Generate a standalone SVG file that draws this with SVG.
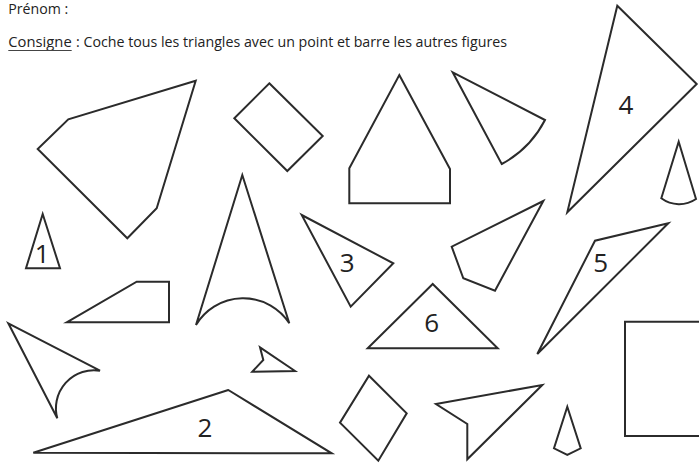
<svg xmlns="http://www.w3.org/2000/svg" width="699" height="463" viewBox="0 0 699 463">
<style>
.s{fill:none;stroke:#2b2b2b;stroke-width:2;stroke-linejoin:miter}
.t{font-family:"Open Sans","Liberation Sans",sans-serif;fill:#222}
.n{font-family:"Open Sans","Liberation Sans",sans-serif;font-size:26px;fill:#222;text-anchor:middle}
</style>
<rect width="699" height="463" fill="#fff"/>
<g id="header">
<text class="t" x="8.3" y="13.5" font-size="15" textLength="60" lengthAdjust="spacingAndGlyphs">Prénom :</text>
<text class="t" x="8.3" y="46.7" font-size="15" textLength="63.4" lengthAdjust="spacingAndGlyphs">Consigne</text>
<line x1="8.3" y1="50.5" x2="71.7" y2="50.5" stroke="#444" stroke-width="1"/>
<text class="t" x="76" y="46.7" font-size="15" textLength="431" lengthAdjust="spacingAndGlyphs">: Coche tous les triangles avec un point et barre les autres figures</text>
</g>
<g id="pentagon-left"><polygon class="s" points="195.7,80.7 68.3,119.3 37.7,149 127.3,238.3 156.7,208.3"/></g>
<g id="tri1"><polygon class="s" points="42.7,214 26,268.3 60,268.3"/><text class="n" x="42.3" y="262.7">1</text></g>
<g id="rect-tilted"><polygon class="s" points="269.3,83.3 322.7,136 287.3,171 234.3,118.3"/></g>
<g id="house"><polygon class="s" points="399.3,75 450,169 450,203.3 349.3,203.3 349.3,168.3"/></g>
<g id="sector"><path class="s" d="M452.7,72.3 L545,120 A104 104 0 0 1 501.7,164 Z"/></g>
<g id="tri4"><polygon class="s" points="617.3,5.7 696.7,84 567.3,212.3"/><text class="n" x="626" y="114.3">4</text></g>
<g id="cone"><path class="s" d="M678.7,141.7 L696,199 A30 30 0 0 1 661.3,198.3 Z"/></g>
<g id="tall-arc"><path class="s" d="M242.3,175 L289.3,323.3 A55 55 0 0 0 196,325 Z"/></g>
<g id="tri3"><polygon class="s" points="301.7,215 393.3,263.3 350.7,306.7"/><text class="n" x="347.3" y="271.7">3</text></g>
<g id="quad"><polygon class="s" points="543.3,201 451.7,246.7 463.3,278.3 495,290.7"/></g>
<g id="tri5"><polygon class="s" points="668.3,223.3 595,240.7 537.3,354"/><text class="n" x="600.7" y="271.7">5</text></g>
<g id="trapezoid"><polygon class="s" points="66.7,322.3 136.7,281.7 169,281.7 169,322.3"/></g>
<g id="tri6"><polygon class="s" points="432.7,284 367.7,348.3 497.7,348.3"/><text class="n" x="431.7" y="331.7">6</text></g>
<g id="curved-arrow"><path class="s" d="M8.3,323.3 L100,370.7 A38 38 0 0 0 57.3,418.3 Z"/></g>
<g id="small-arrow"><polygon class="s" points="260,347.3 295,371 252.3,371.7 263.3,360"/></g>
<g id="square"><polyline class="s" points="702,321.7 625,321.7 625,436 702,436"/></g>
<g id="tri2"><polygon class="s" points="228.3,390 33.3,452.7 331.7,453.3"/><text class="n" x="205" y="436.7">2</text></g>
<g id="diamond"><polygon class="s" points="369,375.7 406.7,413.3 378.3,460.7 340,422.7"/></g>
<g id="arrowhead"><polygon class="s" points="436,404 542.3,385 467.3,459.3 467.3,424"/></g>
<g id="kite"><polygon class="s" points="567.3,406.7 580.7,448.3 567.3,455 554,448.3"/></g>
<g id="connectors"></g>
</svg>
